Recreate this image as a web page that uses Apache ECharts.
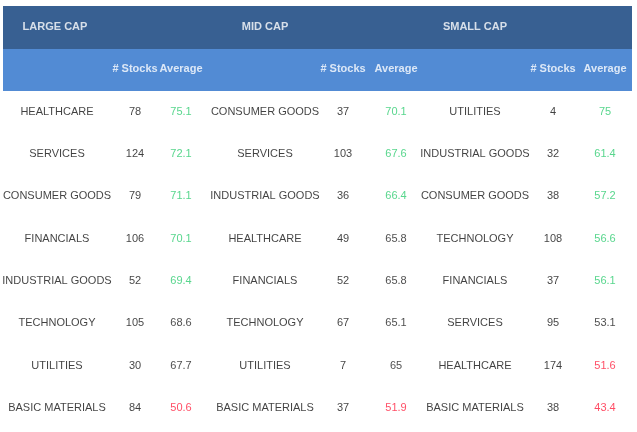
<!DOCTYPE html>
<html><head><meta charset="utf-8">
<script src="https://cdn.jsdelivr.net/npm/echarts@6/dist/echarts.min.js"></script>
<style>html,body{margin:0;padding:0;background:#fff}#c{width:637px;height:432px}</style>
</head><body><div id="c"></div>
<script>
var groups = ['LARGE CAP', 'MID CAP', 'SMALL CAP'];
var largeSectors = ['HEALTHCARE', 'SERVICES', 'CONSUMER GOODS', 'FINANCIALS', 'INDUSTRIAL GOODS', 'TECHNOLOGY', 'UTILITIES', 'BASIC MATERIALS'];
var largeStocks = [78, 124, 79, 106, 52, 105, 30, 84];
var largeAvg = [75.1, 72.1, 71.1, 70.1, 69.4, 68.6, 67.7, 50.6];
var largeTone = ['g', 'g', 'g', 'g', 'g', 'n', 'n', 'r'];
var midSectors = ['CONSUMER GOODS', 'SERVICES', 'INDUSTRIAL GOODS', 'HEALTHCARE', 'FINANCIALS', 'TECHNOLOGY', 'UTILITIES', 'BASIC MATERIALS'];
var midStocks = [37, 103, 36, 49, 52, 67, 7, 37];
var midAvg = [70.1, 67.6, 66.4, 65.8, 65.8, 65.1, 65, 51.9];
var midTone = ['g', 'g', 'g', 'n', 'n', 'n', 'n', 'r'];
var smallSectors = ['UTILITIES', 'INDUSTRIAL GOODS', 'CONSUMER GOODS', 'TECHNOLOGY', 'FINANCIALS', 'SERVICES', 'HEALTHCARE', 'BASIC MATERIALS'];
var smallStocks = [4, 32, 38, 108, 37, 95, 174, 38];
var smallAvg = [75, 61.4, 57.2, 56.6, 56.1, 53.1, 51.6, 43.4];
var smallTone = ['g', 'g', 'g', 'g', 'g', 'n', 'r', 'r'];

var toneColor = {g: '#2ecc71', n: '#222222', r: '#ff1f3d'};
var colX = [[57, 135, 181], [265, 343, 396], [475, 553, 605]];
var rows = ['h1', 'h2', '0', '1', '2', '3', '4', '5', '6', '7'];
var blocks = [
  [largeSectors, largeStocks, largeAvg, largeTone],
  [midSectors, midStocks, midAvg, midTone],
  [smallSectors, smallStocks, smallAvg, smallTone]
];

var cells = [];
function cell(x, row, text, color, weight) {
  cells.push({value: [x, row], label: {formatter: String(text), color: color, fontWeight: weight || 'normal'}});
}
blocks.forEach(function (b, g) {
  var cx = colX[g];
  cell(g === 0 ? 55 : cx[0], 'h1', groups[g], '#fff', 'bold');
  cell(cx[1], 'h2', '# Stocks', '#fff', 'bold');
  cell(cx[2], 'h2', 'Average', '#fff', 'bold');
  b[0].forEach(function (s, i) {
    cell(cx[0], String(i), s, '#111');
    cell(cx[1], String(i), b[1][i], '#111');
    cell(cx[2], String(i), b[2][i], toneColor[b[3][i]]);
  });
});

var chart = echarts.init(document.getElementById('c'));
chart.setOption({
  animation: false,
  textStyle: {fontFamily: 'Liberation Sans, Arial, sans-serif'},
  grid: {left: 0, right: 0, top: 6, bottom: 3},
  xAxis: {type: 'value', min: 0, max: 637, show: false},
  yAxis: {type: 'category', data: rows, inverse: true, show: false},
  graphic: [
    {type: 'rect', shape: {x: 3, y: 6, width: 629, height: 43}, style: {fill: '#386092'}, z: 0},
    {type: 'rect', shape: {x: 3, y: 49, width: 629, height: 42}, style: {fill: '#528bd4'}, z: 0}
  ],
  series: [{
    type: 'scatter',
    symbolSize: 0,
    z: 5,
    label: {show: true, position: 'inside', fontSize: 11},
    data: cells
  }]
});
</script></body></html>
